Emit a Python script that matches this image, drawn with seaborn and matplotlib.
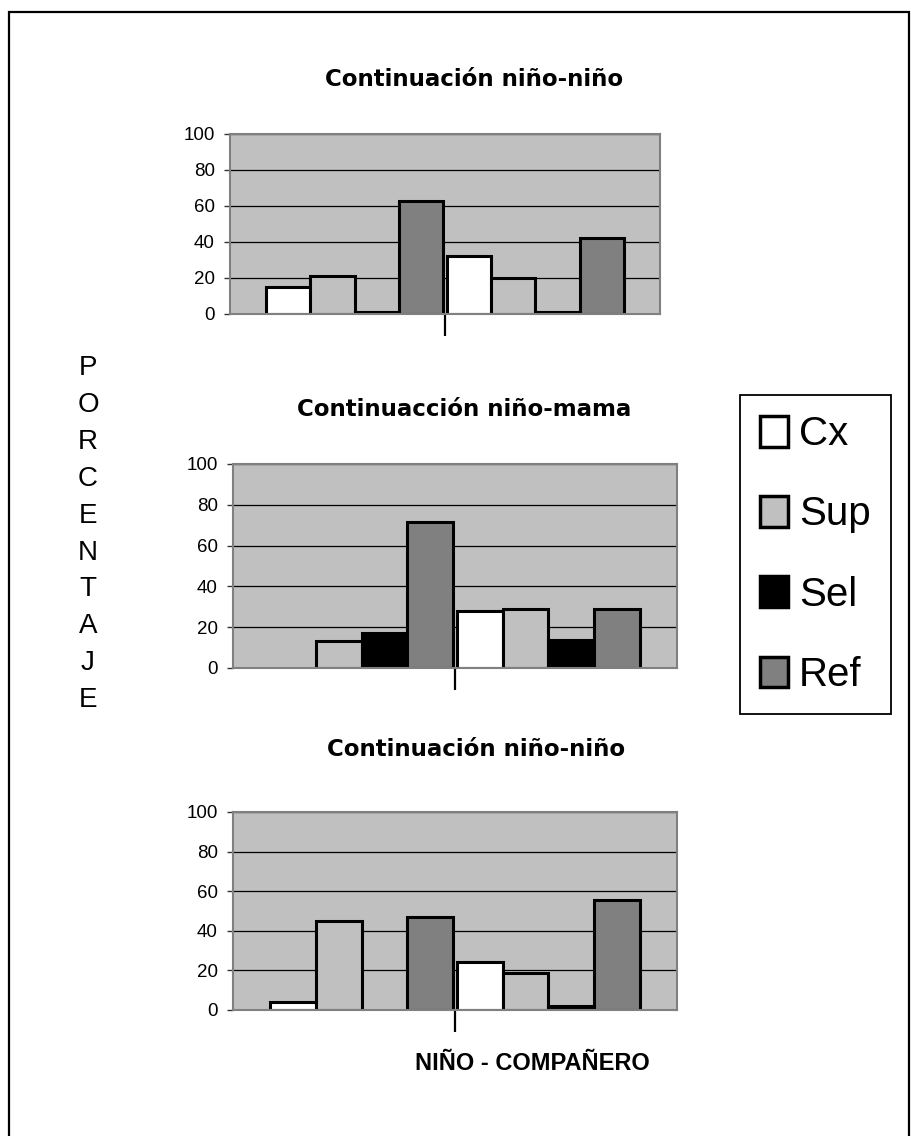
import numpy as np
import pandas as pd
import seaborn as sns
import matplotlib.pyplot as plt
from matplotlib.patches import Patch, Rectangle

# data (percent)
tipos = ["Cx", "Sup", "Sel", "Ref"]
grupos = ["A", "B"]
titulos = ["Continuación niño-niño", "Continuacción niño-mama", "Continuación niño-niño"]
ylabel_txt = "PORCENTAJE"
xlabel_txt = "NIÑO - COMPAÑERO"
yticks = [0, 20, 40, 60, 80, 100]

panel1_a = [15, 21, 1, 63]
panel1_b = [32, 20, 1, 42]
panel2_a = [0, 13, 17, 71.5]
panel2_b = [28, 29, 13.5, 29]
panel3_a = [4, 45, 0, 47]
panel3_b = [24, 18.5, 2, 55.5]

colores = {"Cx": "#ffffff", "Sup": "#c0c0c0", "Sel": "#000000", "Ref": "#808080"}


def tabla(a, b):
    return pd.DataFrame({
        "grupo": [grupos[0]] * 4 + [grupos[1]] * 4,
        "tipo": tipos * 2,
        "valor": a + b,
    })


paneles = [tabla(panel1_a, panel1_b), tabla(panel2_a, panel2_b), tabla(panel3_a, panel3_b)]

sns.set_style("white")
plt.rcParams["font.family"] = ["Liberation Sans", "DejaVu Sans"]
plt.rcParams["text.color"] = "black"
plt.rcParams["ytick.color"] = "black"
plt.rcParams["xtick.color"] = "black"

W, H = 911, 1136
fig = plt.figure(figsize=(W / 100, H / 100), dpi=100)


def ejes(l, t, r, b):
    return fig.add_axes([l / W, 1 - b / H, (r - l) / W, (b - t) / H])


# pixel boxes of the three plot areas (left, top, right, bottom)
cajas = [(230, 134, 660, 314), (233, 464, 677, 668), (233, 812, 677, 1010)]
tit_pos = [(474, 79), (464, 410), (476, 750)]

for df, caja, titulo, tp in zip(paneles, cajas, titulos, tit_pos):
    ax = ejes(*caja)
    sns.barplot(data=df, x="grupo", y="valor", hue="tipo", hue_order=tipos,
                palette=colores, saturation=1, width=0.98, errorbar=None,
                edgecolor="black", linewidth=2.2, legend=False, ax=ax)
    for p in ax.patches:
        if p.get_height() == 0:
            p.set_visible(False)
    ax.set_facecolor("#c0c0c0")
    ax.set_xlim(-0.69, 1.69)
    ax.set_ylim(0, 100)
    ax.set_yticks(yticks)
    ax.set_xticks([0.5])
    ax.set_xticklabels([""])
    ax.set_xlabel("")
    ax.set_ylabel("")
    ax.yaxis.grid(True, color="black", linewidth=0.9)
    ax.set_axisbelow(True)
    for s in ax.spines.values():
        s.set_color("#808080")
        s.set_linewidth(1.5)
        s.set_visible(True)
    ax.tick_params(axis="y", left=True, length=4, width=1, color="#333333",
                   labelsize=13.5, labelcolor="black", pad=7)
    ax.tick_params(axis="x", bottom=True, length=16, width=1.6, color="black", direction="out")
    fig.text(tp[0] / W, 1 - tp[1] / H, titulo, ha="center", va="center",
             fontsize=16.5, fontweight="bold", family=["DejaVu Sans"])

# vertical axis label, one letter per line
for i, letra in enumerate(ylabel_txt):
    fig.text(88 / W, 1 - (368 + i * 36.9) / H, letra, ha="center", va="center", fontsize=20)

fig.text(532 / W, 1 - 1063 / H, xlabel_txt, ha="center", va="center",
         fontsize=17, fontweight="bold")

manijas = [Patch(facecolor=colores[t], edgecolor="black", linewidth=2.5, label=t) for t in tipos]
leg = fig.legend(handles=manijas, loc="upper left", bbox_to_anchor=(740 / W, 1 - 395 / H),
                 borderaxespad=0, frameon=True, fancybox=False, framealpha=1,
                 edgecolor="black", handlelength=0.68, handleheight=0.8,
                 handletextpad=0.28, labelspacing=1.05, borderpad=0.5,
                 prop={"family": "Liberation Sans", "size": 29})
leg.get_frame().set_linewidth(1.3)

# outer frame of the figure
fig.add_artist(Rectangle((9 / W, -0.01), 900 / W, 1 - 12 / H + 0.01, transform=fig.transFigure,
                         fill=False, edgecolor="black", linewidth=1.6))

plt.savefig("out.png", dpi=100)
